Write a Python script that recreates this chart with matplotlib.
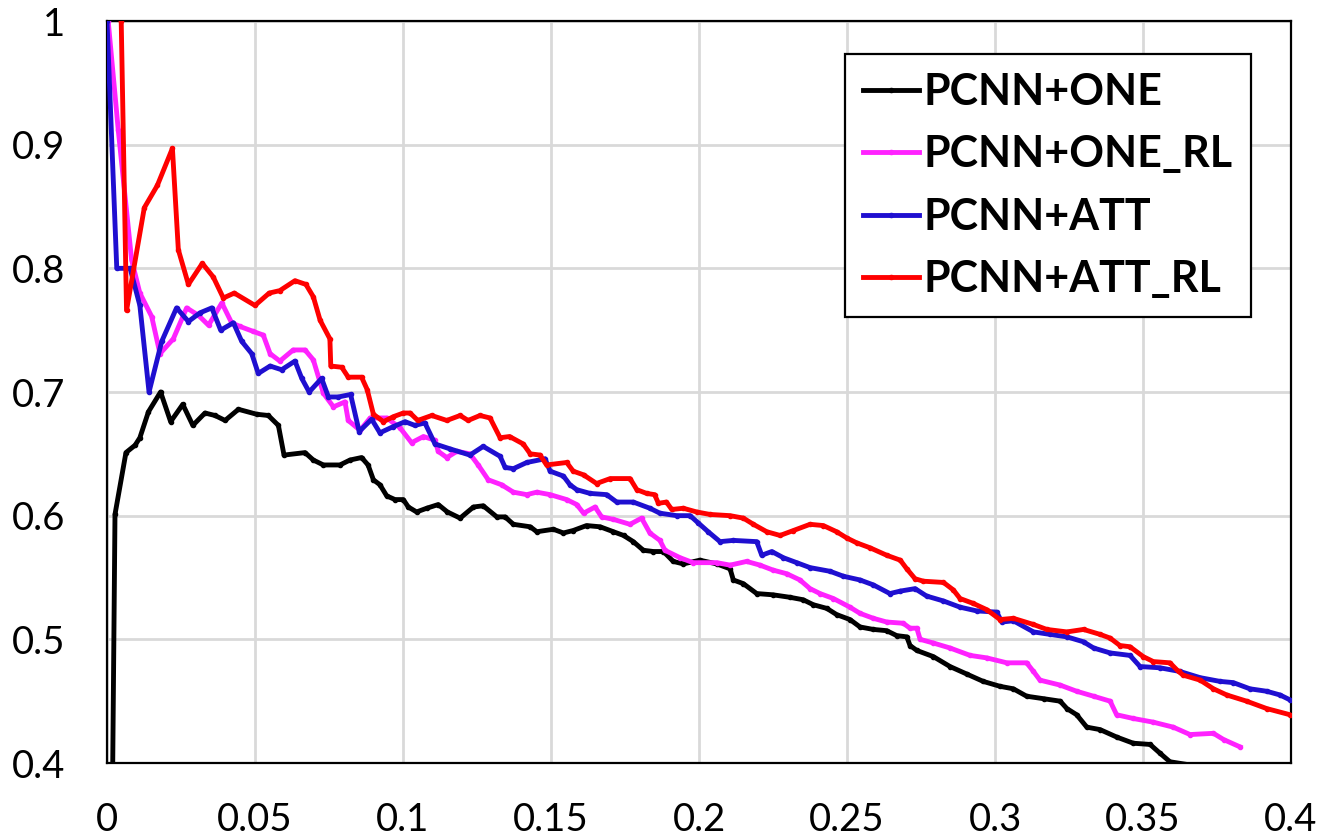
import matplotlib
matplotlib.use("Agg")
import matplotlib.pyplot as plt

# PCNN+ONE (black)
one_x = [0.0019, 0.0027, 0.0064, 0.0095, 0.0111, 0.0140, 0.0181, 0.0215, 0.0256, 0.0290,
         0.0331, 0.0365, 0.0399, 0.0444, 0.0506, 0.0545, 0.0579, 0.0598, 0.0669, 0.0697,
         0.0731, 0.0787, 0.0821, 0.0860, 0.0882, 0.0900, 0.0922, 0.0945, 0.0973, 0.1001,
         0.1018, 0.1046, 0.1080, 0.1119, 0.1150, 0.1193, 0.1238, 0.1271, 0.1317, 0.1345,
         0.1373, 0.1430, 0.1452, 0.1508, 0.1542, 0.1575, 0.1620, 0.1666, 0.1711, 0.1745,
         0.1778, 0.1812, 0.1846, 0.1880, 0.1913, 0.1947, 0.2003, 0.2060, 0.2105, 0.2116,
         0.2150, 0.2195, 0.2250, 0.2307, 0.2352, 0.2386, 0.2432, 0.2465, 0.2510, 0.2544,
         0.2589, 0.2634, 0.2668, 0.2702, 0.2713, 0.2736, 0.2792, 0.2848, 0.2904, 0.2960,
         0.3017, 0.3062, 0.3107, 0.3164, 0.3220, 0.3243, 0.3276, 0.3310, 0.3355, 0.3411,
         0.3467, 0.3524, 0.3557, 0.3591, 0.3670]
one_y = [0.390, 0.601, 0.651, 0.657, 0.663, 0.684, 0.700, 0.676, 0.690, 0.673,
         0.683, 0.681, 0.677, 0.686, 0.682, 0.681, 0.673, 0.649, 0.651, 0.645,
         0.641, 0.641, 0.645, 0.647, 0.641, 0.629, 0.625, 0.616, 0.613, 0.613,
         0.607, 0.603, 0.606, 0.609, 0.603, 0.598, 0.607, 0.608, 0.599, 0.599,
         0.593, 0.591, 0.587, 0.589, 0.586, 0.588, 0.592, 0.591, 0.587, 0.584,
         0.579, 0.572, 0.571, 0.571, 0.563, 0.561, 0.564, 0.561, 0.557, 0.548,
         0.545, 0.537, 0.536, 0.534, 0.532, 0.528, 0.525, 0.520, 0.516, 0.510,
         0.508, 0.507, 0.503, 0.502, 0.495, 0.491, 0.486, 0.478, 0.472, 0.466,
         0.462, 0.460, 0.454, 0.452, 0.450, 0.444, 0.439, 0.429, 0.427, 0.421,
         0.416, 0.415, 0.408, 0.401, 0.398]

# PCNN+ONE_RL (magenta)
onerl_x = [0.0004, 0.0038, 0.0083, 0.0111, 0.0151, 0.0179, 0.0224, 0.0269, 0.0309, 0.0343,
           0.0388, 0.0421, 0.0449, 0.0494, 0.0528, 0.0551, 0.0584, 0.0629, 0.0669, 0.0697,
           0.0731, 0.0765, 0.0804, 0.0815, 0.0855, 0.0889, 0.0945, 0.0990, 0.1029, 0.1069,
           0.1108, 0.1119, 0.1148, 0.1182, 0.1226, 0.1254, 0.1288, 0.1333, 0.1373, 0.1418,
           0.1452, 0.1497, 0.1553, 0.1587, 0.1610, 0.1649, 0.1671, 0.1711, 0.1767, 0.1806,
           0.1834, 0.1868, 0.1885, 0.1936, 0.1980, 0.2060, 0.2105, 0.2161, 0.2206, 0.2250,
           0.2297, 0.2341, 0.2375, 0.2409, 0.2454, 0.2510, 0.2544, 0.2589, 0.2634, 0.2690,
           0.2713, 0.2736, 0.2747, 0.2792, 0.2848, 0.2916, 0.2972, 0.3040, 0.3107, 0.3130,
           0.3152, 0.3220, 0.3276, 0.3333, 0.3389, 0.3411, 0.3467, 0.3535, 0.3602, 0.3659,
           0.3738, 0.3772, 0.3828]
onerl_y = [1.000, 0.912, 0.807, 0.780, 0.761, 0.731, 0.743, 0.768, 0.762, 0.754,
           0.772, 0.756, 0.753, 0.749, 0.746, 0.731, 0.725, 0.734, 0.734, 0.726,
           0.699, 0.688, 0.692, 0.677, 0.669, 0.679, 0.679, 0.671, 0.659, 0.664,
           0.661, 0.652, 0.647, 0.652, 0.650, 0.641, 0.629, 0.625, 0.619, 0.617,
           0.619, 0.617, 0.613, 0.609, 0.602, 0.607, 0.599, 0.597, 0.593, 0.598,
           0.586, 0.580, 0.572, 0.566, 0.562, 0.562, 0.560, 0.563, 0.560, 0.556,
           0.553, 0.548, 0.541, 0.537, 0.533, 0.526, 0.521, 0.517, 0.514, 0.513,
           0.509, 0.509, 0.500, 0.497, 0.493, 0.487, 0.485, 0.481, 0.481, 0.474,
           0.467, 0.463, 0.458, 0.454, 0.450, 0.439, 0.436, 0.433, 0.429, 0.423,
           0.424, 0.419, 0.413]

# PCNN+ATT (blue)
att_x = [0.0000, 0.0033, 0.0078, 0.0111, 0.0142, 0.0185, 0.0235, 0.0275, 0.0314, 0.0354,
         0.0384, 0.0427, 0.0455, 0.0489, 0.0511, 0.0551, 0.0590, 0.0635, 0.0658, 0.0683,
         0.0725, 0.0748, 0.0782, 0.0823, 0.0852, 0.0894, 0.0922, 0.0967, 0.1007, 0.1040,
         0.1074, 0.1108, 0.1159, 0.1226, 0.1271, 0.1328, 0.1345, 0.1373, 0.1418, 0.1480,
         0.1497, 0.1542, 0.1564, 0.1587, 0.1632, 0.1688, 0.1722, 0.1778, 0.1834, 0.1868,
         0.1925, 0.1970, 0.1998, 0.2031, 0.2071, 0.2116, 0.2195, 0.2212, 0.2246, 0.2285,
         0.2330, 0.2375, 0.2443, 0.2488, 0.2544, 0.2589, 0.2645, 0.2680, 0.2730, 0.2769,
         0.2826, 0.2882, 0.2938, 0.3006, 0.3023, 0.3062, 0.3130, 0.3186, 0.3243, 0.3299,
         0.3333, 0.3389, 0.3456, 0.3490, 0.3557, 0.3625, 0.3693, 0.3760, 0.3805, 0.3861,
         0.3918, 0.3963, 0.3997]
att_y = [1.000, 0.800, 0.800, 0.770, 0.700, 0.741, 0.768, 0.757, 0.764, 0.768,
         0.750, 0.756, 0.741, 0.731, 0.715, 0.721, 0.718, 0.725, 0.711, 0.700,
         0.711, 0.696, 0.696, 0.698, 0.668, 0.678, 0.667, 0.672, 0.676, 0.673,
         0.675, 0.658, 0.654, 0.649, 0.656, 0.648, 0.639, 0.638, 0.643, 0.646,
         0.636, 0.632, 0.625, 0.621, 0.618, 0.617, 0.611, 0.611, 0.606, 0.602,
         0.600, 0.600, 0.594, 0.587, 0.579, 0.580, 0.579, 0.568, 0.571, 0.566,
         0.562, 0.558, 0.555, 0.551, 0.548, 0.544, 0.537, 0.539, 0.541, 0.535,
         0.531, 0.526, 0.523, 0.522, 0.514, 0.515, 0.506, 0.504, 0.502, 0.498,
         0.493, 0.489, 0.487, 0.478, 0.477, 0.474, 0.469, 0.466, 0.465, 0.460,
         0.458, 0.455, 0.451]

# PCNN+ATT_RL (red)
attrl_x = [0.0048, 0.0066, 0.0126, 0.0170, 0.0221, 0.0241, 0.0275, 0.0322, 0.0359, 0.0393,
           0.0430, 0.0500, 0.0548, 0.0584, 0.0635, 0.0672, 0.0697, 0.0720, 0.0753, 0.0756,
           0.0793, 0.0815, 0.0860, 0.0879, 0.0900, 0.0934, 0.0967, 0.1001, 0.1024, 0.1050,
           0.1097, 0.1148, 0.1193, 0.1220, 0.1260, 0.1294, 0.1328, 0.1360, 0.1406, 0.1430,
           0.1463, 0.1485, 0.1553, 0.1575, 0.1610, 0.1654, 0.1700, 0.1767, 0.1790, 0.1823,
           0.1850, 0.1863, 0.1890, 0.1908, 0.1947, 0.1992, 0.2037, 0.2105, 0.2150, 0.2184,
           0.2229, 0.2274, 0.2319, 0.2375, 0.2420, 0.2465, 0.2499, 0.2533, 0.2578, 0.2634,
           0.2680, 0.2702, 0.2730, 0.2758, 0.2826, 0.2859, 0.2882, 0.2927, 0.2972, 0.3017,
           0.3062, 0.3130, 0.3175, 0.3243, 0.3299, 0.3355, 0.3389, 0.3422, 0.3456, 0.3501,
           0.3535, 0.3591, 0.3620, 0.3636, 0.3693, 0.3738, 0.3783, 0.3850, 0.3918, 0.3997]
attrl_y = [1.000, 0.766, 0.849, 0.867, 0.897, 0.815, 0.787, 0.804, 0.793, 0.776,
           0.780, 0.770, 0.780, 0.782, 0.790, 0.787, 0.777, 0.758, 0.743, 0.721,
           0.720, 0.712, 0.712, 0.702, 0.682, 0.676, 0.680, 0.683, 0.683, 0.677,
           0.681, 0.677, 0.681, 0.677, 0.681, 0.679, 0.663, 0.664, 0.658, 0.650,
           0.649, 0.641, 0.643, 0.636, 0.633, 0.626, 0.630, 0.630, 0.621, 0.618,
           0.617, 0.610, 0.611, 0.605, 0.606, 0.603, 0.601, 0.600, 0.598, 0.593,
           0.587, 0.584, 0.588, 0.593, 0.592, 0.587, 0.582, 0.578, 0.574, 0.568,
           0.564, 0.557, 0.549, 0.547, 0.546, 0.540, 0.533, 0.529, 0.524, 0.516,
           0.517, 0.512, 0.508, 0.506, 0.508, 0.504, 0.501, 0.495, 0.494, 0.486,
           0.482, 0.481, 0.474, 0.471, 0.467, 0.460, 0.455, 0.450, 0.444, 0.439]

series = [
    ("PCNN+ONE", one_x, one_y, "#000000"),
    ("PCNN+ONE_RL", onerl_x, onerl_y, "#FF22FF"),
    ("PCNN+ATT", att_x, att_y, "#1F0FD0"),
    ("PCNN+ATT_RL", attrl_x, attrl_y, "#FF0000"),
]

x_ticks = [0, 0.05, 0.1, 0.15, 0.2, 0.25, 0.3, 0.35, 0.4]
x_labels = ["0", "0.05", "0.1", "0.15", "0.2", "0.25", "0.3", "0.35", "0.4"]
y_ticks = [0.4, 0.5, 0.6, 0.7, 0.8, 0.9, 1.0]
y_labels = ["0.4", "0.5", "0.6", "0.7", "0.8", "0.9", "1"]

plt.rcParams['font.family'] = ['Lato', 'DejaVu Sans']

fig = plt.figure(figsize=(13.25, 8.36), dpi=100)
ax = fig.add_axes([107/1325, 1 - 763/836, (1291-107)/1325, (763-21)/836])

for name, xs, ys, c in series:
    ax.plot(xs, ys, color=c, lw=3.5, marker='o', ms=3.0, mfc=c, mec=c,
            solid_joinstyle='round', label=name, zorder=3)

ax.set_xlim(0, 0.4)
ax.set_ylim(0.4, 1.0)
ax.set_xticks(x_ticks)
ax.set_xticklabels(x_labels)
ax.set_yticks(y_ticks)
ax.set_yticklabels(y_labels)
ax.tick_params(axis='both', length=0, labelsize=27.5, colors='black')
ax.tick_params(axis='x', pad=28)
ax.tick_params(axis='y', pad=30)
ax.grid(True, color='#d9d9d9', lw=2.0, zorder=0)
ax.set_axisbelow(True)
for s in ax.spines.values():
    s.set_color('black')
    s.set_linewidth(1.6)

leg = ax.legend(loc='upper left', bbox_to_anchor=(0.623, 0.9555),
                prop={'family': ['Lato', 'DejaVu Sans'], 'weight': 'bold', 'size': 31},
                frameon=True, fancybox=False, edgecolor='black', framealpha=1,
                handlelength=1.3, handletextpad=0.12, labelspacing=0.52,
                borderpad=0.42, borderaxespad=0, numpoints=1)
leg.get_frame().set_linewidth(1.6)

fig.savefig("out.png", dpi=100, facecolor='white')
